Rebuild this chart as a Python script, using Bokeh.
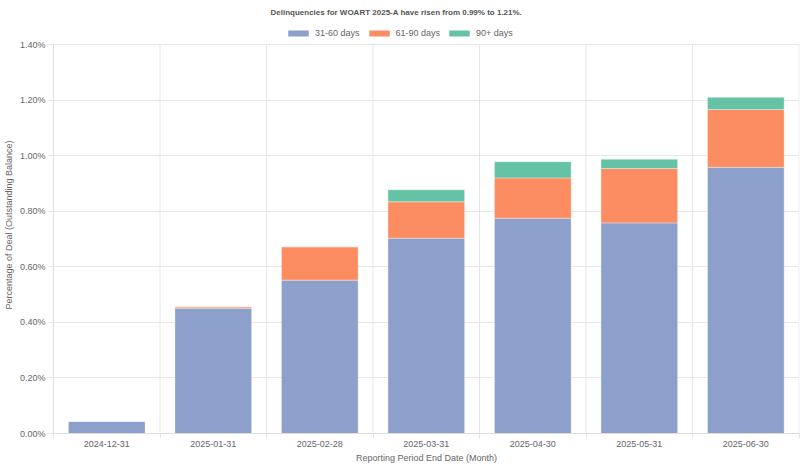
from bokeh.plotting import figure
from bokeh.models import (Range1d, FixedTicker, PrintfTickFormatter, Legend, LegendItem,
                          ColumnDataSource)
from bokeh.embed import file_html
from bokeh.resources import INLINE

dates = ["2024-12-31", "2025-01-31", "2025-02-28", "2025-03-31", "2025-04-30", "2025-05-31", "2025-06-30"]
d31_60 = [0.044, 0.451, 0.552, 0.703, 0.775, 0.758, 0.958]
d61_90 = [0.0, 0.005, 0.120, 0.131, 0.145, 0.196, 0.208]
d90p = [0.0, 0.0, 0.0, 0.043, 0.058, 0.033, 0.044]
series = ["31-60 days", "61-90 days", "90+ days"]
colors = ["#8da0cb", "#fc8d62", "#66c2a5"]
y_ticks = [0.0, 0.2, 0.4, 0.6, 0.8, 1.0, 1.2, 1.4]
Y_MAX = 1.4

FONT = "Liberation Sans"
TXT = "#666666"
GRID = "#e6e6e6"

n = len(dates)
xs = [i + 0.5 for i in range(n)]
bounds = list(range(n + 1))
src = ColumnDataSource(dict(x=xs, a=d31_60, b=d61_90, c=d90p))

p = figure(width=800, height=467, output_backend="svg", toolbar_location=None,
           x_range=Range1d(0, n + 0.004), y_range=Range1d(0, Y_MAX + 0.1008),
           min_border_left=51, min_border_right=1, min_border_top=16, min_border_bottom=34)
p.outline_line_color = None
p.background_fill_color = "white"
p.border_fill_color = "white"

# vertical category separators (grid) from 0 to top of value axis
p.segment(x0=bounds[1:], y0=[0] * n, x1=bounds[1:], y1=[Y_MAX] * n,
          line_color=GRID, line_width=1)

rs = p.vbar_stack(["a", "b", "c"], x="x", width=0.72, source=src, color=colors,
                  line_color="white", line_alpha=0.35, line_width=1)

# title
p.title.text = "Delinquencies for WOART 2025-A have risen from 0.99% to 1.21%."
p.title.align = "left"
p.title.offset = 217
p.title.text_font = FONT
p.title.text_font_size = "8px"
p.title.text_font_style = "bold"
p.title.text_color = "#555555"
p.title.standoff = 0

legend = Legend(items=[LegendItem(label=s, renderers=[r]) for s, r in zip(series, rs)],
                orientation="horizontal", location=(232, 395))
legend.label_text_font = FONT
legend.label_text_font_size = "9px"
legend.label_text_color = TXT
legend.glyph_width = 26
legend.glyph_height = 8
legend.label_height = 10
legend.label_standoff = 4
legend.spacing = 6
legend.padding = 2
legend.margin = 0
legend.border_line_color = None
legend.background_fill_alpha = 0
p.add_layout(legend, "center")

# axes
p.xaxis.ticker = FixedTicker(ticks=xs, minor_ticks=bounds)
p.xaxis.major_label_overrides = {x: d for x, d in zip(xs, dates)}
p.xaxis.major_tick_out = 0
p.xaxis.major_tick_in = 0
p.xaxis.minor_tick_out = 5
p.xaxis.minor_tick_in = 0
p.xaxis.minor_tick_line_color = GRID
p.xaxis.axis_label = "Reporting Period End Date (Month)"

p.yaxis.ticker = FixedTicker(ticks=y_ticks)
p.yaxis.bounds = (0, Y_MAX)
p.yaxis.formatter = PrintfTickFormatter(format="%.2f%%")
p.yaxis.major_tick_out = 6
p.yaxis.major_tick_in = 0
p.yaxis.minor_tick_out = 0
p.yaxis.minor_tick_in = 0
p.yaxis.major_tick_line_color = GRID
p.yaxis.axis_label = "Percentage of Deal (Outstanding Balance)"

for ax in (p.xaxis[0], p.yaxis[0]):
    ax.axis_line_color = "#dddddd"
    ax.major_label_text_font = FONT
    ax.major_label_text_font_size = "9px"
    ax.major_label_text_color = TXT
    ax.axis_label_text_font = FONT
    ax.axis_label_text_font_size = "9px"
    ax.axis_label_text_font_style = "normal"
    ax.axis_label_text_color = TXT
    ax.major_label_standoff = 2
    ax.axis_label_standoff = 3

p.xgrid.visible = False
p.ygrid.ticker = FixedTicker(ticks=y_ticks)
p.ygrid.grid_line_color = GRID

open("out.html", "w").write(file_html(p, INLINE))
